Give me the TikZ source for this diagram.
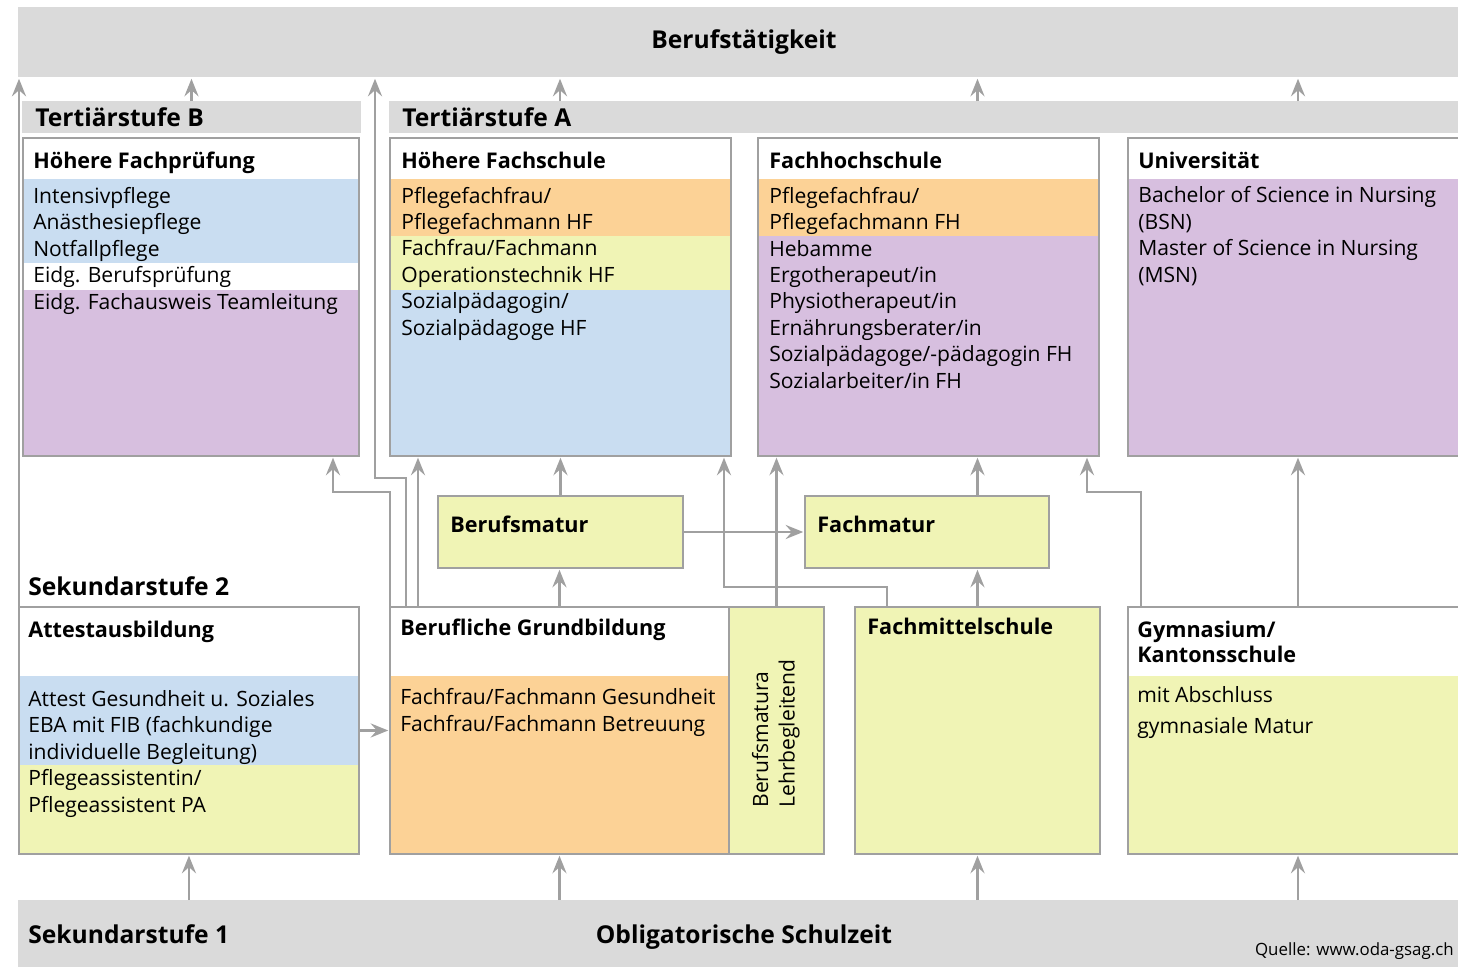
\documentclass[tikz,border=0pt]{standalone}
\usepackage{fontspec}
\setmainfont{Open Sans}
\usetikzlibrary{arrows.meta}
\definecolor{bandgray}{HTML}{DADADA}
\definecolor{linegray}{HTML}{A0A0A0}
\definecolor{fblue}{HTML}{C9DDF1}
\definecolor{fpurple}{HTML}{D7BFDF}
\definecolor{forange}{HTML}{FCD296}
\definecolor{fyellow}{HTML}{F0F4B5}
\tikzset{
band/.style={fill=bandgray, inner sep=0, outer sep=0, anchor=north west},
box/.style={draw=linegray, line width=1.5pt, inner sep=0, outer sep=0, anchor=north west},
flow/.style={draw=linegray, line width=1.5pt, -{Stealth[length=10pt,width=8pt,inset=3.5pt]}, shorten >=1pt},
head/.style={font=\fontsize{12.3}{15}\selectfont\bfseries, anchor=base west, inner sep=0, align=left},
level/.style={font=\fontsize{14}{17}\selectfont\bfseries, anchor=base west, inner sep=0},
list/.style={font=\fontsize{12}{15}\selectfont, anchor=base west, inner sep=0, align=left}
}
\begin{document}
\begin{tikzpicture}[x=0.02cm, y=-0.02cm]
\useasboundingbox (0,0) rectangle (1458,967);

% bands
\node[band, minimum width=28.8cm, minimum height=1.4cm] (beruf) at (18,7) {};
\node[band, minimum width=6.78cm, minimum height=0.64cm] (tb) at (22,101) {};
\node[band, minimum width=21.46cm, minimum height=0.64cm] (ta) at (389,101) {};
\node[band, minimum width=28.88cm, minimum height=1.44cm] (sek1) at (18,900) {};

% colour parts
\fill[fblue] (23,179) rectangle (359,263);
\fill[fpurple] (23,290) rectangle (359,456);
\fill[forange] (390,179) rectangle (731,236);
\fill[fyellow] (390,236) rectangle (731,290);
\fill[fblue] (390,290) rectangle (731,456);
\fill[forange] (758,179) rectangle (1099,236);
\fill[fpurple] (758,236) rectangle (1099,456);
\fill[fpurple] (1128,179) rectangle (1464,456);
\fill[fblue] (19,676) rectangle (359,765);
\fill[fyellow] (19,765) rectangle (359,854);
\fill[forange] (390,676) rectangle (729,854);
\fill[fyellow] (1128,676) rectangle (1464,854);

% boxes
\node[box, minimum width=6.72cm, minimum height=6.36cm] (hfp) at (23,138) {};
\node[box, minimum width=6.82cm, minimum height=6.36cm] (hf) at (390,138) {};
\node[box, minimum width=6.82cm, minimum height=6.36cm] (fh) at (758,138) {};
\node[box, minimum width=6.72cm, minimum height=6.36cm] (uni) at (1128,138) {};
\node[box, fill=fyellow, minimum width=4.9cm, minimum height=1.44cm] (bm) at (438,496) {};
\node[box, fill=fyellow, minimum width=4.88cm, minimum height=1.44cm] (fm) at (805,496) {};
\node[box, minimum width=6.8cm, minimum height=4.94cm] (attest) at (19,607) {};
\node[box, minimum width=6.78cm, minimum height=4.94cm] (gb) at (390,607) {};
\node[box, fill=fyellow, minimum width=1.9cm, minimum height=4.94cm] (bms) at (729,607) {};
\node[box, fill=fyellow, minimum width=4.9cm, minimum height=4.94cm] (fms) at (855,607) {};
\node[box, minimum width=6.72cm, minimum height=4.94cm] (gym) at (1128,607) {};

% texts (multi-line nodes sit on their last baseline)
\node[font=\fontsize{14}{17}\selectfont\bfseries, inner sep=0] (tberuf) at (744,42) {Berufstätigkeit};
\node[level] (ttb) at (35,126) {Tertiärstufe B};
\node[level] (tta) at (402,126) {Tertiärstufe A};
\node[level] (tsek2) at (28,595) {Sekundarstufe 2};
\node[level] (tsek1) at (28,943) {Sekundarstufe 1};
\node[font=\fontsize{14}{17}\selectfont\bfseries, inner sep=0, anchor=base] (tobl) at (744,943) {Obligatorische Schulzeit};
\node[font=\fontsize{9.6}{11}\selectfont, inner sep=0, anchor=base east] (tquelle) at (1454,955) {Quelle: www.oda-gsag.ch};

\node[head] (thfp) at (33,168) {Höhere Fachprüfung};
\node[list] (lhfp) at (33,309) {Intensivpflege\\Anästhesiepflege\\Notfallpflege\\Eidg. Berufsprüfung\\Eidg. Fachausweis Teamleitung};
\node[head] (thf) at (401,168) {Höhere Fachschule};
\node[list] (lhf) at (401,335) {Pflegefachfrau/\\Pflegefachmann HF\\Fachfrau/Fachmann\\Operationstechnik HF\\Sozialpädagogin/\\Sozialpädagoge HF};
\node[head] (tfh) at (769,168) {Fachhochschule};
\node[list] (lfh) at (769,388) {Pflegefachfrau/\\Pflegefachmann FH\\Hebamme\\Ergotherapeut/in\\Physiotherapeut/in\\Ernährungsberater/in\\Sozialpädagoge/-pädagogin FH\\Sozialarbeiter/in FH};
\node[head] (tuni) at (1138,168) {Universität};
\node[list] (luni) at (1138,282) {Bachelor of Science in Nursing\\(BSN)\\Master of Science in Nursing\\(MSN)};
\node[head] (tbm) at (450,532) {Berufsmatur};
\node[head] (tfm) at (817,532) {Fachmatur};
\node[head] (tattest) at (28,637) {Attestausbildung};
\node[list] (lattest) at (28,812) {Attest Gesundheit u. Soziales\\EBA mit FIB (fachkundige\\individuelle Begleitung)\\Pflegeassistentin/\\Pflegeassistent PA};
\node[head] (tgb) at (400,635) {Berufliche Grundbildung};
\node[list] (lgb) at (400,731) {Fachfrau/Fachmann Gesundheit\\Fachfrau/Fachmann Betreuung};
\node[list, rotate=90, anchor=south west] (lbms) at (800,808) {Berufsmatura\\Lehrbegleitend};
\node[head] (tfms) at (867,634) {Fachmittelschule};
\node[head, font=\fontsize{12.3}{14.2}\selectfont\bfseries] (tgym) at (1137,662) {Gymnasium/\\Kantonsschule};
\node[list, font=\fontsize{12}{17.5}\selectfont] (lgym) at (1137,733) {mit Abschluss\\gymnasiale Matur};

% bend points
\coordinate (b1) at (406,478);
\coordinate (b2) at (375,478);
\coordinate (b3) at (333,492);
\coordinate (b4) at (418,0);
\coordinate (b5) at (887,587);
\coordinate (b6) at (724,587);
\coordinate (b7) at (1141,492);
\coordinate (b8) at (1087,492);
\coordinate (x560) at (560,0);
\coordinate (x1298) at (1298,0);

% connectors up to Berufstätigkeit
\draw[flow] (attest.north west) -- (attest.north west |- beruf.south);
\draw[flow] (tb.north) -- (tb.north |- beruf.south);
\draw[flow] (b1 |- gb.north) -- (b1) -- (b2) -- (b2 |- beruf.south);
\draw[flow] (x560 |- ta.north) -- (x560 |- beruf.south);
\draw[flow] (fms.north |- ta.north) -- (fms.north |- beruf.south);
\draw[flow] (x1298 |- ta.north) -- (x1298 |- beruf.south);

% connectors into tertiary
\draw[flow] (gb.north west) |- (b3) -- (b3 |- hfp.south);
\draw[flow] (b4 |- gb.north) -- (b4 |- hf.south);
\draw[flow] (gb.north) -- (gb.north |- bm.south);
\draw[flow] (bm.north) -- (bm.north |- hf.south);
\draw[flow] (bm.east) -- (fm.west);
\draw[flow] (b5 |- fms.north) -- (b5) -- (b6) -- (b6 |- hf.south);
\draw[flow] (bms.north) -- (bms.north |- fh.south);
\draw[flow] (fms.north) -- (fms.north |- fm.south);
\draw[flow] (fms.north |- fm.north) -- (fms.north |- fh.south);
\draw[flow] (b7 |- gym.north) -- (b7) -- (b8) -- (b8 |- fh.south);
\draw[flow] (x1298 |- gym.north) -- (x1298 |- uni.south);
\draw[flow] (attest.east) -- (attest.east -| gb.west);

% connectors from Sekundarstufe 1
\draw[flow] (attest.south |- sek1.north) -- (attest.south);
\draw[flow] (gb.south |- sek1.north) -- (gb.south);
\draw[flow] (fms.south |- sek1.north) -- (fms.south);
\draw[flow] (x1298 |- sek1.north) -- (x1298 |- gym.south);
\end{tikzpicture}
\end{document}
